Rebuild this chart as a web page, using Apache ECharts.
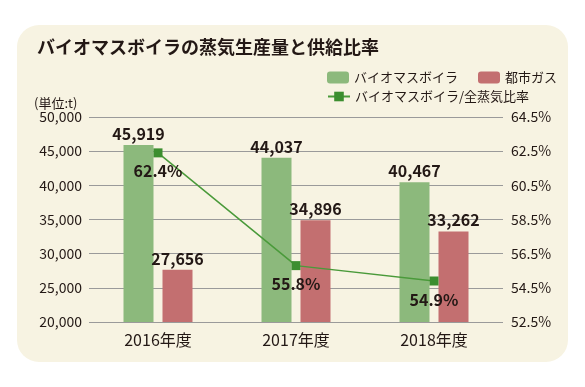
<!DOCTYPE html>
<html>
<head>
<meta charset="utf-8">
<style>html,body{margin:0;padding:0;background:#fff;}#c{width:585px;height:387px;}</style>
<script src="https://cdn.jsdelivr.net/npm/echarts@6/dist/echarts.min.js"></script>
</head>
<body>
<div id="c"></div>
<script>
const categories = ['2016年度', '2017年度', '2018年度'];
const biomass = [45919, 44037, 40467];
const cityGas = [27656, 34896, 33262];
const ratio = [62.4, 55.8, 54.9];
const leftTicks = [20000, 25000, 30000, 35000, 40000, 45000, 50000];
const rightTicks = [52.5, 54.5, 56.5, 58.5, 60.5, 62.5, 64.5];

const FONT = '"Noto Sans CJK JP", "Noto Sans", sans-serif';
const chart = echarts.init(document.getElementById('c'));
const isRightTick = v => rightTicks.some(t => Math.abs(t - v) < 1e-6);

chart.setOption({
  animation: false,
  textStyle: { fontFamily: FONT },
  graphic: [
    { type: 'rect', z: -10, silent: true, shape: { x: 17, y: 25, width: 551, height: 337, r: 22 }, style: { fill: '#f7f3e2' } },
    { type: 'text', z: 100, left: 37, top: 38, style: { text: 'バイオマスボイラの蒸気生産量と供給比率', font: 'bold 18px ' + FONT, fill: '#231815' } },
    { type: 'text', z: 100, left: 34, top: 97, style: { text: '(単位:t)', font: '13px ' + FONT, fill: '#231815' } }
  ],
  legend: [
    { data: ['バイオマスボイラ', '都市ガス'], left: 322, top: 66, itemWidth: 22, itemHeight: 12, itemGap: 20,
      textStyle: { fontSize: 13, color: '#231815', fontFamily: FONT } },
    { data: ['バイオマスボイラ/全蒸気比率'], left: 322, top: 85, itemWidth: 22, itemHeight: 12,
      textStyle: { fontSize: 13, color: '#231815', fontFamily: FONT } }
  ],
  grid: { left: 89, right: 82, top: 117, bottom: 65, containLabel: false },
  xAxis: {
    type: 'category', data: categories,
    axisLine: { show: false }, axisTick: { show: false },
    axisLabel: { fontSize: 16, color: '#231815', margin: 10 }
  },
  yAxis: [
    { type: 'value', min: 20000, max: 50000, interval: 5000,
      axisLine: { show: false }, axisTick: { show: false },
      splitLine: { lineStyle: { color: '#9a9a9a', width: 1 } },
      axisLabel: { fontSize: 14, color: '#231815', margin: 7, formatter: v => v.toLocaleString('en-US') } },
    { type: 'value', min: 52.5, max: 64.5, interval: 0.5,
      axisLine: { show: false }, axisTick: { show: false }, splitLine: { show: false },
      axisLabel: { fontSize: 14, color: '#231815', margin: 8, showMinLabel: true, showMaxLabel: true,
        formatter: v => isRightTick(v) ? v.toFixed(1) + '%' : '' } }
  ],
  series: [
    { name: 'バイオマスボイラ', type: 'bar', data: biomass, barWidth: 30, barGap: '30%',
      itemStyle: { color: '#8cb97c' },
      label: { show: true, position: 'top', distance: 3, fontSize: 16, fontWeight: 'bold', color: '#231815',
        formatter: p => p.value.toLocaleString('en-US') } },
    { name: '都市ガス', type: 'bar', data: cityGas, barWidth: 30,
      itemStyle: { color: '#c36f70' },
      label: { show: true, position: 'top', distance: 3, fontSize: 16, fontWeight: 'bold', color: '#231815',
        formatter: p => p.value.toLocaleString('en-US') } },
    { name: 'バイオマスボイラ/全蒸気比率', type: 'line', yAxisIndex: 1, data: ratio,
      symbol: 'rect', symbolSize: 9, z: 5,
      lineStyle: { color: '#4a9a3a', width: 1.5 }, itemStyle: { color: '#3c8e2f' },
      label: { show: true, position: 'bottom', distance: 6, fontSize: 16, fontWeight: 'bold', color: '#231815',
        formatter: p => p.value.toFixed(1) + '%' } }
  ]
});
</script>
</body>
</html>
